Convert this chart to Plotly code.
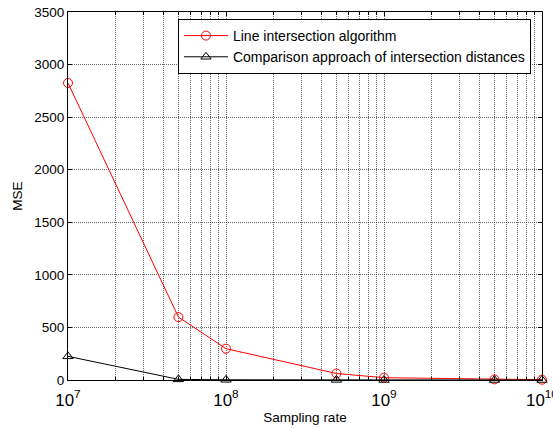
import plotly.graph_objects as go

sampling_rate = [1e7, 5e7, 1e8, 5e8, 1e9, 5e9, 1e10]
mse_line = [2825, 598, 298, 62, 22, 6, 3]
mse_comp = [225, 6, 2, 1, 0.5, 0.3, 0.2]
y_ticks = [0, 500, 1000, 1500, 2000, 2500, 3000, 3500]

fig = go.Figure()
fig.add_trace(go.Scatter(
    x=sampling_rate, y=mse_line, mode="lines+markers",
    name="Line intersection algorithm",
    line=dict(color="#ff0000", width=1),
    marker=dict(symbol="circle-open", size=9, color="#ff0000", line=dict(width=1)),
    cliponaxis=False,
))
fig.add_trace(go.Scatter(
    x=sampling_rate, y=mse_comp, mode="lines+markers",
    name="Comparison approach of intersection distances",
    line=dict(color="#000000", width=1),
    marker=dict(symbol="triangle-up-open", size=9, color="#000000", line=dict(width=1)),
    cliponaxis=False,
))

gcol = "rgba(0,0,0,0.6)"
gdash = "1px,1px"

fig.update_layout(
    width=553, height=428,
    margin=dict(l=68, r=11, t=12, b=48, autoexpand=False),
    paper_bgcolor="white", plot_bgcolor="white",
    font=dict(family="Liberation Sans, Arial", size=13.5, color="black"),
    showlegend=True,
    legend=dict(x=0.232, y=0.981, xanchor="left", yanchor="top",
                bordercolor="black", borderwidth=1, bgcolor="white",
                font=dict(size=14), tracegroupgap=0, itemwidth=44),
    xaxis=dict(
        type="log", range=[7, 10], dtick=1, exponentformat="power",
        showline=True, linecolor="black", linewidth=1, mirror="ticks",
        ticks="inside", ticklen=4, tickcolor="black",
        tickfont=dict(size=13.5), ticklabeloverflow="allow", ticklabelstandoff=5,
        showgrid=True, gridcolor=gcol, griddash=gdash, gridwidth=1,
        minor=dict(dtick="D1", showgrid=True, ticks="inside", ticklen=3,
                   tickcolor="black", gridcolor=gcol, griddash=gdash),
        title=dict(text="Sampling rate", font=dict(size=13.5), standoff=3),
        zeroline=False, automargin=False,
    ),
    yaxis=dict(
        range=[0, 3500], tickvals=y_ticks,
        showline=True, linecolor="black", linewidth=1, mirror="ticks",
        ticks="inside", ticklen=4, tickcolor="black",
        tickfont=dict(size=13.5),
        showgrid=True, gridcolor=gcol, griddash=gdash, gridwidth=1,
        title=dict(text="MSE", font=dict(size=13.5), standoff=8),
        zeroline=False, automargin=False,
    ),
)

fig.write_html("out.html")
